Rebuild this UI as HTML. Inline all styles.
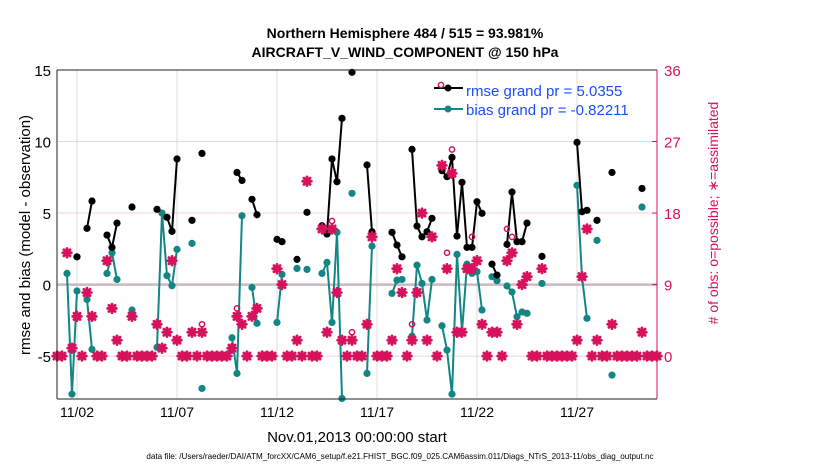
<!DOCTYPE html>
<html><head><meta charset="utf-8"><style>
html,body{margin:0;padding:0;background:#fff;}
svg{display:block;font-family:"Liberation Sans",Arial,sans-serif;}
</style></head><body>
<svg id="chart" width="830" height="470" viewBox="0 0 830 470" xmlns="http://www.w3.org/2000/svg">
<text x="405" y="38" text-anchor="middle" font-size="14" font-weight="bold">Northern Hemisphere 484 / 515 = 93.981%</text>
<text x="405" y="57" text-anchor="middle" font-size="14" font-weight="bold">AIRCRAFT_V_WIND_COMPONENT @ 150 hPa</text>
<g id="grid"></g>
<g id="marks"></g>
<g id="axes"></g>
<text transform="translate(30,235) rotate(-90)" text-anchor="middle" font-size="15">rmse and bias (model - observation)</text>
<text transform="translate(718,213) rotate(-90)" text-anchor="middle" font-size="14" fill="#d6125c"># of obs: o=possible; ∗=assimilated</text>
<text x="357" y="442" text-anchor="middle" font-size="15">Nov.01,2013 00:00:00 start</text>
<text x="400" y="459" text-anchor="middle" font-size="8.1">data file: /Users/raeder/DAI/ATM_forcXX/CAM6_setup/f.e21.FHIST_BGC.f09_025.CAM6assim.011/Diags_NTrS_2013-11/obs_diag_output.nc</text>
<g>
<line x1="434" y1="88" x2="463" y2="88" stroke="#000" stroke-width="2"/>
<circle cx="448" cy="88" r="3.5" fill="#000"/>
<circle cx="441" cy="85" r="2.6" fill="none" stroke="#d6125c" stroke-width="1.5"/>
<text x="466" y="96" font-size="15" fill="#1a4dff">rmse grand pr = 5.0355</text>
<line x1="434" y1="109" x2="463" y2="109" stroke="#138585" stroke-width="2"/>
<circle cx="448" cy="109" r="3.5" fill="#138585"/>
<text x="466" y="115" font-size="15" fill="#1a4dff">bias grand pr = -0.82211</text>
</g>
</svg>
<script>
const rmseBins=[4,6,7,10,11,12,15,20,22,23,24,27,29,36,37,39,40,44,45,48,50,53,54,55,56,57,59,62,63,67,68,69,71,72,73,74,75,77,78,79,80,81,82,83,84,85,87,88,90,91,92,93,94,97,104,105,106,108,111,117];
const rmseVals=[1.94,3.93,5.84,3.46,2.6,4.3,5.42,5.26,4.7,3.72,8.78,4.49,9.17,7.84,7.28,5.96,4.88,3.16,3.0,1.76,5.05,4.11,3.53,8.78,7.19,11.62,14.84,8.36,3.69,3.65,2.76,1.94,9.45,4.09,3.34,3.69,4.63,7.96,7.54,8.89,3.39,7.15,2.6,2.6,5.79,4.98,1.43,0.66,2.81,6.47,3.0,3.0,4.3,1.97,9.94,5.09,5.19,4.49,7.84,6.72];
const biasBins=[2,3,4,6,7,10,11,12,15,20,21,22,23,24,27,29,35,36,37,39,40,44,45,48,50,53,54,55,56,57,59,62,63,67,68,69,71,72,73,74,75,77,78,79,80,81,82,83,84,85,87,88,90,91,92,93,94,97,104,105,106,108,111,117];
const biasVals=[0.78,-7.66,-0.45,-1.04,-4.53,0.78,2.22,0.36,-1.78,-4.39,5.0,0.62,-0.08,2.46,2.88,-7.26,-3.72,-6.21,4.81,-0.2,-2.71,-2.65,0.71,1.13,1.06,0.78,1.55,-2.65,3.65,-7.96,6.38,-6.21,2.69,-0.62,0.31,0.36,-3.6,1.36,0.08,-2.48,0.36,-2.88,-4.58,-7.66,2.11,-3.3,1.43,0.78,0.9,-1.78,0.55,0.27,-0.1,-0.52,-2.25,-1.92,-2.01,0.08,6.94,0.52,-2.36,3.09,-6.33,5.42];
const assimCounts=[0,0,13,1,5,0,8,5,0,0,12,6,2,0,0,5,0,0,0,0,4,1,3,12,2,0,0,3,0,3,0,0,0,0,0,1,5,4,0,5,6,0,0,0,11,9,0,0,2,0,22,0,0,16,3,16,8,2,0,2,0,0,4,15,0,0,0,2,11,8,0,2,8,18,2,15,0,24,11,23,3,3,11,11,12,4,0,3,3,0,12,13,4,9,10,0,0,11,0,0,0,0,0,0,2,10,16,0,2,0,0,4,0,0,0,0,0,3,0,0,0];
const possibleBins=[29,36,55,59,71,78,79,83,90,91];
const possibleCounts=[4,6,17,3,4,13,26,15,16,15];
const leftTicks=[-5,0,5,10,15];
const rightTicks=[0,9,18,27,36];
const xTickDays=[1,6,11,16,21,26];
const xTickLabels=["11/02","11/07","11/12","11/17","11/22","11/27"];

const NS="http://www.w3.org/2000/svg";
const L=57,R=657,T=70,B=399,YMIN=-8,YMAX=15;
const xBin=i=>L+5*i;
const xDay=d=>L+20*d;
const yL=v=>B-(v-YMIN)/(YMAX-YMIN)*(B-T);
const yR=c=>yL(c*5/9-5);
const PINK="#d6125c",TEAL="#138585";
function mk(tag,attrs,parent){const e=document.createElementNS(NS,tag);for(const k in attrs)e.setAttribute(k,attrs[k]);parent.appendChild(e);return e;}
const grid=document.getElementById('grid'),marks=document.getElementById('marks'),axes=document.getElementById('axes');

xTickDays.forEach((d,k)=>{
  const g=mk('line',{x1:xDay(d),x2:xDay(d),y1:T,y2:B,stroke:'#dcdcdc','stroke-width':1},grid);
  
  
  const t=mk('text',{x:xDay(d),y:417,'text-anchor':'middle','font-size':14},axes);
  t.textContent=xTickLabels[k];
  
  
});
rightTicks.forEach(c=>{
  if(c>0&&c<36){
    const g=mk('line',{x1:L,x2:R,y1:yR(c),y2:yR(c),stroke:'#f2d3de','stroke-width':1},grid);
    
    
  }
  const t=mk('text',{x:R+7,y:yR(c)+6,'font-size':15,fill:PINK},axes);
  t.textContent=c;
  
  
  const tk=mk('line',{x1:R-5,x2:R,y1:yR(c),y2:yR(c),stroke:PINK,'stroke-width':1},axes);
  
  
});
const g5=mk('line',{x1:L,x2:R,y1:yL(-5),y2:yL(-5),stroke:'#f2d3de','stroke-width':1},grid);


const zl=mk('line',{x1:L,x2:R,y1:yL(0),y2:yL(0),stroke:'#c9b9c0','stroke-width':2.5},grid);



leftTicks.forEach(v=>{
  const t=mk('text',{x:L-6,y:yL(v)+6,'text-anchor':'end','font-size':15},axes);
  t.textContent=v;
  
  
});
const la=mk('line',{x1:L,x2:L,y1:T,y2:B,stroke:'#222','stroke-width':1},axes);


const ba=mk('line',{x1:L,x2:R,y1:B,y2:B,stroke:'#222','stroke-width':1},axes);


const ta=mk('line',{x1:L,x2:R,y1:T,y2:T,stroke:'#222','stroke-width':1},axes);


const ra=mk('line',{x1:R,x2:R,y1:T,y2:B,stroke:PINK,'stroke-width':1},axes);



function series(bins,vals,color,name){
  for(let k=1;k<bins.length;k++){
    if(bins[k]-bins[k-1]===1){
      const l=mk('line',{x1:xBin(bins[k-1]),y1:yL(vals[k-1]),x2:xBin(bins[k]),y2:yL(vals[k]),stroke:color,'stroke-width':2},marks);
      
      
    }
  }
  bins.forEach((b,k)=>{
    const c=mk('circle',{cx:xBin(b),cy:yL(vals[k]),r:3.6,fill:color},marks);
    
    
  });
}
series(biasBins,biasVals,TEAL,'bias');
series(rmseBins,rmseVals,'#000','rmse');

possibleBins.forEach((b,k)=>{
  const c=mk('circle',{cx:xBin(b),cy:yR(possibleCounts[k]),r:2.6,fill:'none',stroke:PINK,'stroke-width':1.5},marks);
  
  
});
assimCounts.forEach((c,i)=>{
  const x=xBin(i),y=yR(c);
  const g=mk('g',{},marks);
  
  
  mk('path',{d:`M${x-4.3},${y}H${x+4.3}M${x},${y-4.3}V${y+4.3}M${x-3.1},${y-3.1}L${x+3.1},${y+3.1}M${x-3.1},${y+3.1}L${x+3.1},${y-3.1}`,stroke:PINK,'stroke-width':2.8,'stroke-linecap':'round'},g);
});
</script>
</body></html>
